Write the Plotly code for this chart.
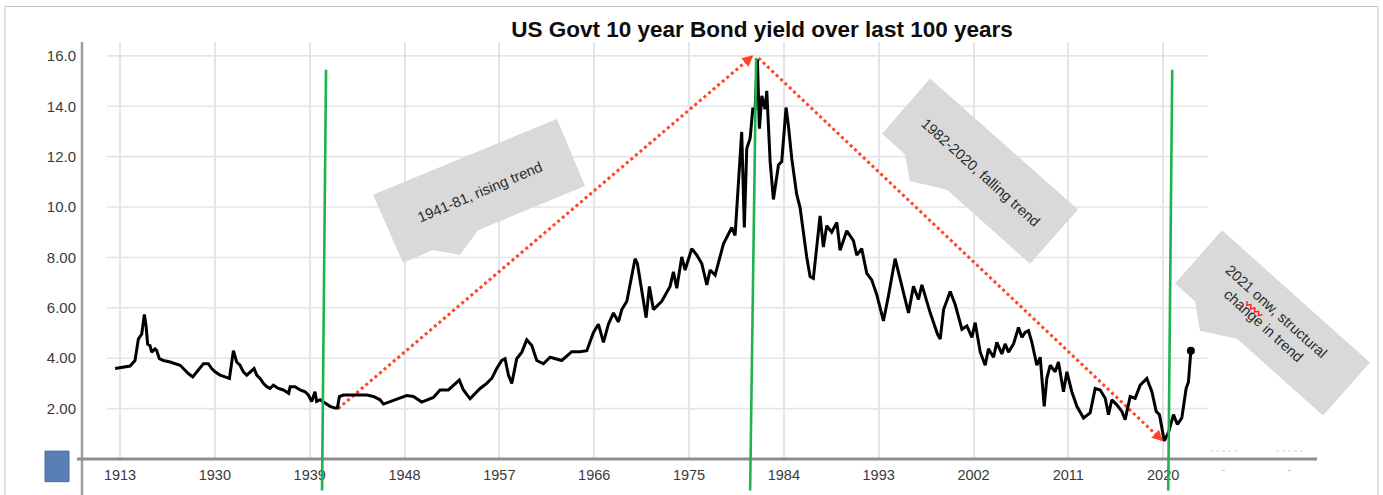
import math
import plotly.graph_objects as go

# ---------------- data ----------------
# x positions are in the chart's own year scale (9 years per grid step)
years = [
    1920.53, 1921.32, 1921.95, 1922.42, 1922.74, 1923.06, 1923.31, 1923.47, 1923.62, 1923.85,
    1924.00, 1924.32, 1924.48, 1924.73, 1925.11, 1925.75, 1926.22, 1926.70, 1927.01, 1927.48,
    1927.90, 1928.28, 1928.59, 1928.91, 1929.38, 1929.70, 1930.02, 1930.49, 1930.97, 1931.38,
    1931.76, 1932.07, 1932.39, 1932.70, 1933.03, 1933.34, 1933.72, 1933.97, 1934.29, 1934.60,
    1934.92, 1935.24, 1935.55, 1936.03, 1936.50, 1937.01, 1937.14, 1937.61, 1938.09, 1938.56,
    1938.87, 1939.19, 1939.50, 1939.66, 1939.98, 1940.46, 1940.93, 1941.41, 1941.63, 1941.82,
    1942.20, 1943.15, 1944.42, 1945.05, 1945.68, 1946.00,
    1946.63, 1947.27, 1948.20, 1948.84, 1949.63, 1950.74, 1951.37, 1952.16, 1952.48, 1953.20,
    1953.59, 1954.22, 1955.17, 1955.80, 1956.28, 1956.75, 1957.23, 1957.54, 1957.86, 1958.18,
    1958.65, 1959.13, 1959.60, 1960.08, 1960.55, 1961.18, 1961.82, 1962.45, 1962.92, 1963.87,
    1964.66, 1965.30, 1965.93, 1966.40, 1966.88, 1967.35, 1967.83, 1968.30, 1968.62, 1969.10,
    1969.41, 1969.88, 1970.10, 1970.50, 1970.93, 1971.24, 1971.62, 1972.41, 1973.20, 1973.52,
    1973.84, 1974.31, 1974.63, 1975.26, 1975.74, 1976.21,
    1976.69, 1977.00, 1977.48, 1978.27, 1979.06, 1979.37, 1979.69, 1980.00, 1980.25, 1980.48,
    1980.80, 1981.05, 1981.27, 1981.49, 1981.68, 1981.91, 1982.22, 1982.38, 1982.70, 1983.01,
    1983.49, 1983.80, 1984.21, 1984.43, 1984.75, 1985.22, 1985.54, 1985.85, 1986.17, 1986.49,
    1986.80, 1987.12, 1987.44, 1987.75, 1988.07, 1988.54, 1989.03, 1989.34, 1989.97, 1990.60,
    1990.92, 1991.39, 1991.87, 1992.34, 1992.82, 1993.45, 1993.92, 1994.56, 1995.04, 1995.51,
    1995.83, 1996.30, 1996.78, 1997.10, 1997.89, 1998.58,
    1998.84, 1999.16, 1999.79, 2000.26, 2000.90, 2001.37, 2001.85, 2002.16, 2002.64, 2003.11,
    2003.42, 2003.90, 2004.21, 2004.69, 2005.00, 2005.32, 2005.80, 2006.27, 2006.59, 2006.90,
    2007.22, 2007.54, 2008.01, 2008.33, 2008.71, 2008.96, 2009.28, 2009.75, 2010.06, 2010.54,
    2010.86, 2011.33, 2011.81, 2012.44, 2013.07, 2013.55, 2014.02, 2014.50, 2014.81, 2015.13,
    2015.60, 2016.08, 2016.39, 2016.87, 2017.34, 2017.82, 2018.45, 2018.93, 2019.34, 2019.65,
    2020.10, 2020.50, 2020.98, 2021.35, 2021.77, 2022.18, 2022.40, 2022.63,
]
yields = [
    3.59, 3.65, 3.69, 3.91, 4.76, 4.96, 5.74, 5.28, 4.56, 4.50,
    4.24, 4.37, 4.30, 3.98, 3.91, 3.85, 3.78, 3.72, 3.59, 3.39,
    3.26, 3.46, 3.59, 3.78, 3.78, 3.59, 3.46, 3.33, 3.26, 3.20,
    4.30, 3.85, 3.72, 3.46, 3.33, 3.46, 3.59, 3.33, 3.20, 3.00,
    2.87, 2.80, 2.93, 2.80, 2.74, 2.61, 2.87, 2.87, 2.74, 2.67,
    2.54, 2.28, 2.67, 2.28, 2.35, 2.22, 2.09, 2.02, 2.02, 2.48,
    2.54, 2.54, 2.54, 2.48, 2.35, 2.18,
    2.28, 2.35, 2.52, 2.48, 2.26, 2.44, 2.74, 2.74, 2.87, 3.13,
    2.74, 2.39, 2.80, 3.00, 3.20, 3.59, 3.91, 3.98, 3.33, 3.00,
    3.98, 4.24, 4.73, 4.50, 3.91, 3.78, 4.04, 3.95, 3.91, 4.26,
    4.26, 4.30, 5.02, 5.35, 4.63, 5.35, 5.80, 5.44, 5.93, 6.26,
    6.98, 7.95, 7.76, 6.78, 5.61, 6.85, 5.93, 6.26, 6.85, 7.43,
    6.78, 8.02, 7.50, 8.35, 8.09, 7.76,
    6.91, 7.50, 7.30, 8.54, 9.19, 8.87, 10.76, 12.98, 9.19, 12.32,
    12.72, 13.89, 13.89, 15.85, 13.11, 14.41, 13.89, 14.61, 11.80, 10.30,
    11.67, 11.80, 13.95, 13.24, 11.93, 10.50, 9.98, 8.93, 8.02, 7.24,
    7.17, 8.41, 9.65, 8.41, 9.26, 9.00, 9.39, 8.28, 9.06, 8.67,
    8.09, 8.35, 7.37, 7.11, 6.52, 5.48, 6.46, 7.95, 7.11, 6.33,
    5.80, 6.85, 6.33, 6.91, 5.80, 4.96,
    4.76, 5.93, 6.65, 6.13, 5.15, 5.28, 4.83, 5.41, 4.24, 3.72,
    4.37, 4.04, 4.63, 4.17, 4.57, 4.24, 4.57, 5.22, 4.83, 5.02,
    5.09, 4.63, 3.72, 4.04, 2.09, 3.20, 3.72, 3.46, 3.85, 2.67,
    3.46, 2.67, 2.09, 1.63, 1.83, 2.80, 2.74, 2.41, 1.76, 2.35,
    2.15, 1.89, 1.56, 2.48, 2.41, 2.93, 3.20, 2.67, 1.89, 1.76,
    0.72, 1.04, 1.76, 1.37, 1.63, 2.80, 3.06, 4.30,
]

tick_years = [1921, 1930, 1939, 1948, 1957, 1966, 1975, 1984, 1993, 2002, 2011, 2020]
tick_labels = ["1913", "1930", "1939", "1948", "1957", "1966", "1975", "1984",
               "1993", "2002", "2011", "2020"]
extra_tick_years = [2025.7, 2031.95]
y_ticks = [2, 4, 6, 8, 10, 12, 14, 16]
y_labels = ["2.00", "4.00", "6.00", "8.00", "10.0", "12.0", "14.0", "16.0"]

# trend arrows (start year, start yield, end year, end yield)
rise_arrow = [1941.7, 2.0, 1981.1, 16.02]
fall_arrow = [1981.6, 15.91, 2020.0, 0.70]
# green marker lines: (top year, bottom year, top yield)
green_marks = [(1940.55, 1940.17, 15.45), (1981.37, 1980.8, 15.92), (2020.86, 2020.48, 15.45)]

title = "US Govt 10 year Bond yield over last 100 years"
label_rise = "1941-81, rising trend"
label_fall = "1982-2020, falling trend"
label_change = "2021 onw, structural<br>change in trend"

# ---------------- layout geometry ----------------
W, H = 1383, 495
L, R, T, B = 82, 1317, 42, 465
XMIN, XMAX = 1917.39, 2034.6
YMIN, YMAX = 0.0, 16.55


def px(x):
    return (x - L) / (R - L)


def py(y):
    return (B - y) / (B - T)


def xr(year):
    return (year - XMIN) / (XMAX - XMIN)


def yr(v):
    return (v - YMIN) / (YMAX - YMIN)


def poly(points):
    pts = [f"{px(x):.5f},{py(y):.5f}" for x, y in points]
    return "M " + " L ".join(pts) + " Z"


GRID = "#e4e5ec"
RED = "#ff4526"
GREEN = "#1fb34f"
BOX = "#d9d9d9"
TXT = "#2b2b2b"

fig = go.Figure()

# red dotted trend lines
for a in (rise_arrow, fall_arrow):
    fig.add_trace(go.Scatter(x=[a[0], a[2]], y=[a[1], a[3]], mode="lines",
                             line=dict(color=RED, width=3, dash="dot"),
                             hoverinfo="skip", showlegend=False))

# yield line
fig.add_trace(go.Scatter(x=years, y=yields, mode="lines",
                         line=dict(color="#000000", width=3),
                         showlegend=False))
fig.add_trace(go.Scatter(x=[years[-1]], y=[yields[-1]], mode="markers",
                         marker=dict(color="#000000", size=8),
                         showlegend=False))

shapes = []
# outer frame
shapes.append(dict(type="rect", xref="paper", yref="paper",
                   x0=px(5), x1=px(1378), y0=py(505), y1=py(6),
                   line=dict(color="#c4c4c4", width=1), layer="below"))
# horizontal grid lines
for v in y_ticks:
    shapes.append(dict(type="line", xref="paper", yref="y", x0=px(107), x1=px(1208),
                       y0=v, y1=v, line=dict(color=GRID, width=1.6), layer="below"))
# faint dashed stubs near the extra ticks
for ey in extra_tick_years:
    shapes.append(dict(type="line", xref="paper", yref="paper",
                       x0=xr(ey) - 13 / (R - L), x1=xr(ey) + 15 / (R - L),
                       y0=py(457), y1=py(457),
                       line=dict(color="#e2e2e8", width=1.5, dash="dot"), layer="below"))
# axis lines
shapes.append(dict(type="line", xref="paper", yref="paper", x0=0, x1=0,
                   y0=py(505), y1=1, line=dict(color="#9c9c9c", width=2.5)))
shapes.append(dict(type="line", xref="paper", yref="paper", x0=px(77), x1=1,
                   y0=0, y1=0, line=dict(color="#8e8e8e", width=3)))
# green vertical markers
for top_year, bottom_year, top_v in green_marks:
    shapes.append(dict(type="line", xref="paper", yref="paper",
                       x0=xr(top_year), x1=xr(bottom_year), y0=yr(top_v), y1=py(497),
                       line=dict(color=GREEN, width=2.6), layer="above"))
# callout boxes
shapes.append(dict(type="path", xref="paper", yref="paper",
                   path=poly([(373, 197), (557, 120), (585, 188), (478, 233),
                              (460, 258), (433, 253), (403, 266)]),
                   fillcolor=BOX, line=dict(width=0), layer="above"))
shapes.append(dict(type="path", xref="paper", yref="paper",
                   path=poly([(930, 79), (1078, 212), (1030, 267), (947, 192),
                              (910, 183), (905, 156), (882, 135)]),
                   fillcolor=BOX, line=dict(width=0), layer="above"))
shapes.append(dict(type="path", xref="paper", yref="paper",
                   path=poly([(1222, 233), (1370, 367), (1323, 421), (1237, 343),
                              (1200, 335), (1195, 305), (1175, 287)]),
                   fillcolor=BOX, line=dict(width=0), layer="above"))
# red spell-check squiggle under "onw"
ang = math.radians(42)
d = (math.cos(ang), math.sin(ang))
n = (-math.sin(ang), math.cos(ang))
sx, sy = 1246, 306
sq = []
for i in range(9):
    off = 1.6 if i % 2 else -1.6
    t = i * 2.6
    sq.append((sx + d[0] * t + n[0] * off, sy + d[1] * t + n[1] * off))
shapes.append(dict(type="path", xref="paper", yref="paper",
                   path="M " + " L ".join(f"{px(x):.5f},{py(y):.5f}" for x, y in sq),
                   line=dict(color="#ff2020", width=1.4), layer="above"))
# blue square bottom-left
shapes.append(dict(type="rect", xref="paper", yref="paper",
                   x0=px(45), x1=px(69), y0=py(488), y1=py(457),
                   fillcolor="#5a7fb7", line=dict(color="#47699c", width=1)))

annotations = []
cfont = dict(family="Liberation Sans, Arial, sans-serif", size=14.6, color=TXT)
annotations.append(dict(xref="paper", yref="paper", x=px(480), y=py(194),
                        text=label_rise, showarrow=False, textangle=-23,
                        font=cfont, xanchor="center", yanchor="middle"))
annotations.append(dict(xref="paper", yref="paper", x=px(980), y=py(174),
                        text=label_fall, showarrow=False, textangle=42,
                        font=cfont, xanchor="center", yanchor="middle"))
annotations.append(dict(xref="paper", yref="paper", x=px(1270), y=py(322),
                        text=label_change, showarrow=False, textangle=42,
                        font=cfont, xanchor="center", yanchor="middle"))
# arrow heads
annotations.append(dict(x=rise_arrow[2], y=rise_arrow[3], xref="x", yref="y",
                        ax=-10, ay=8.5, showarrow=True, arrowhead=2, arrowsize=1.1,
                        arrowwidth=2, arrowcolor=RED, text=""))
annotations.append(dict(x=fall_arrow[2], y=fall_arrow[3], xref="x", yref="y",
                        ax=-9.5, ay=-9, showarrow=True, arrowhead=2, arrowsize=1.1,
                        arrowwidth=2, arrowcolor=RED, text=""))
# tiny labels at the extra ticks
for ey in extra_tick_years:
    annotations.append(dict(xref="paper", yref="paper", x=xr(ey), y=py(476),
                            text="-", showarrow=False,
                            font=dict(size=9, color="#9a9a9a"),
                            xanchor="center", yanchor="middle"))

fig.update_layout(
    width=W, height=H, autosize=False,
    margin=dict(l=L, r=W - R, t=T, b=H - B, pad=0),
    paper_bgcolor="white", plot_bgcolor="white",
    title=dict(text=f"<b>{title}</b>", x=px(762), xref="paper", xanchor="center",
               y=1 - 29 / H, yref="container", yanchor="middle",
               font=dict(family="Liberation Sans, Arial, sans-serif", size=22.5,
                         color="#0d0d0d")),
    xaxis=dict(range=[XMIN, XMAX], tickmode="array", tickvals=tick_years,
               ticktext=tick_labels, showgrid=True, gridcolor=GRID, gridwidth=1.6,
               zeroline=False, showline=False, ticks="", ticklabelstandoff=5,
               tickfont=dict(family="Liberation Sans, Arial, sans-serif", size=14.5,
                             color="#3a3a3a")),
    yaxis=dict(range=[YMIN, YMAX], tickmode="array", tickvals=y_ticks,
               ticktext=y_labels, showgrid=False, zeroline=False, showline=False,
               ticks="", ticklabelstandoff=5,
               tickfont=dict(family="Liberation Sans, Arial, sans-serif", size=15,
                             color="#3a3a3a")),
    shapes=shapes, annotations=annotations, hovermode=False, showlegend=False,
)

fig.write_html(
    "out.html",
    config={"displayModeBar": False},
    post_script="document.body.style.margin='0';document.body.style.overflow='hidden';",
)
